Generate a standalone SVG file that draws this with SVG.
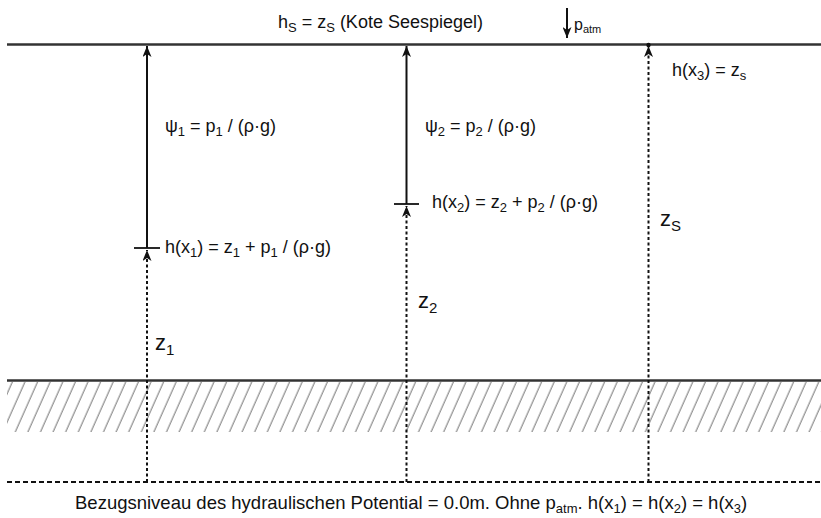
<svg xmlns="http://www.w3.org/2000/svg" width="821" height="518" viewBox="0 0 821 518">
<style>
text{font-family:"Liberation Sans",Arial,sans-serif;fill:#111}
.t{font-size:18px}
.z{font-size:22px}
.solid{stroke:#111;stroke-width:2;fill:none}
.dot{stroke:#111;stroke-width:2;stroke-dasharray:3 2.5;fill:none}
.lvl{stroke:#333;stroke-width:2.5;fill:none}
.tick{stroke:#111;stroke-width:1.8}
</style>
<defs>
<marker id="ah" viewBox="0 0 12 9" refX="11" refY="4.5" markerWidth="12" markerHeight="9" markerUnits="userSpaceOnUse" orient="auto">
<path d="M0,0 L11,4.5 L0,9 L3,4.5 Z" fill="#111"/>
</marker>
<pattern id="hatch" patternUnits="userSpaceOnUse" x="0" y="382" width="12.6" height="52" patternTransform="skewX(-24)">
<line x1="6" y1="-2" x2="6" y2="54" stroke="#777" stroke-width="1.1"/>
</pattern>
</defs>

<g id="ground">
<rect x="7" y="382" width="814" height="50" fill="url(#hatch)"/>
<line class="lvl" x1="7" y1="380.5" x2="821" y2="380.5"/>
</g>
<g id="lake-surface">
<line class="lvl" x1="7" y1="44.5" x2="821" y2="44.5"/>
</g>
<g id="datum">
<line x1="7" y1="482" x2="821" y2="482" stroke="#111" stroke-width="2" stroke-dasharray="5 3"/>
</g>

<g id="connectors">
<line class="dot" x1="147" y1="482" x2="147" y2="250" marker-end="url(#ah)"/>
<line class="solid" x1="147" y1="248" x2="147" y2="46" marker-end="url(#ah)"/>
<line class="tick" x1="134" y1="248" x2="160" y2="248"/>
<line class="dot" x1="406.5" y1="482" x2="406.5" y2="206" marker-end="url(#ah)"/>
<line class="solid" x1="406.5" y1="204" x2="406.5" y2="46" marker-end="url(#ah)"/>
<line class="tick" x1="394" y1="204" x2="419" y2="204"/>
<line class="dot" x1="648.5" y1="482" x2="648.5" y2="46" marker-end="url(#ah)"/>
<circle cx="648.5" cy="45" r="2.2" fill="#111"/>
<line class="solid" x1="567" y1="8" x2="567" y2="38" marker-end="url(#ah)"/>
</g>

<g id="label-top">
<text class="t" x="278" y="28">h<tspan font-size="13" dy="4">S</tspan><tspan dy="-4"> = z</tspan><tspan font-size="13" dy="4">S</tspan><tspan dy="-4"> (Kote Seespiegel)</tspan></text>
</g>
<g id="label-patm">
<text x="574" y="30" font-size="16">p<tspan font-size="11" dy="3">atm</tspan></text>
</g>
<g id="label-psi1">
<text class="t" x="165" y="132">ψ<tspan font-size="13" dy="4">1</tspan><tspan dy="-4"> = p</tspan><tspan font-size="13" dy="4">1</tspan><tspan dy="-4"> / (ρ·g)</tspan></text>
</g>
<g id="label-h1">
<text class="t" x="165" y="253">h(x<tspan font-size="13" dy="4">1</tspan><tspan dy="-4">) = z</tspan><tspan font-size="13" dy="4">1</tspan><tspan dy="-4"> + p</tspan><tspan font-size="13" dy="4">1</tspan><tspan dy="-4"> / (ρ·g)</tspan></text>
</g>
<g id="label-z1">
<text class="z" x="155" y="350">z<tspan font-size="15" dy="5">1</tspan></text>
</g>
<g id="label-psi2">
<text class="t" x="425" y="132">ψ<tspan font-size="13" dy="4">2</tspan><tspan dy="-4"> = p</tspan><tspan font-size="13" dy="4">2</tspan><tspan dy="-4"> / (ρ·g)</tspan></text>
</g>
<g id="label-h2">
<text class="t" x="432" y="208">h(x<tspan font-size="13" dy="4">2</tspan><tspan dy="-4">) = z</tspan><tspan font-size="13" dy="4">2</tspan><tspan dy="-4"> + p</tspan><tspan font-size="13" dy="4">2</tspan><tspan dy="-4"> / (ρ·g)</tspan></text>
</g>
<g id="label-z2">
<text class="z" x="418" y="308">z<tspan font-size="15" dy="5">2</tspan></text>
</g>
<g id="label-h3">
<text class="t" x="672" y="76">h(x<tspan font-size="13" dy="4">3</tspan><tspan dy="-4">) = z</tspan><tspan font-size="13" dy="4">s</tspan></text>
</g>
<g id="label-zs">
<text class="z" x="660" y="226">z<tspan font-size="15" dy="5">S</tspan></text>
</g>
<g id="label-bottom">
<text x="75" y="509" font-size="18.5">Bezugsniveau des hydraulischen Potential = 0.0m. Ohne p<tspan font-size="13" dy="4">atm</tspan><tspan dy="-4">. h(x</tspan><tspan font-size="13" dy="4">1</tspan><tspan dy="-4">) = h(x</tspan><tspan font-size="13" dy="4">2</tspan><tspan dy="-4">) = h(x</tspan><tspan font-size="13" dy="4">3</tspan><tspan dy="-4">)</tspan></text>
</g>
</svg>
